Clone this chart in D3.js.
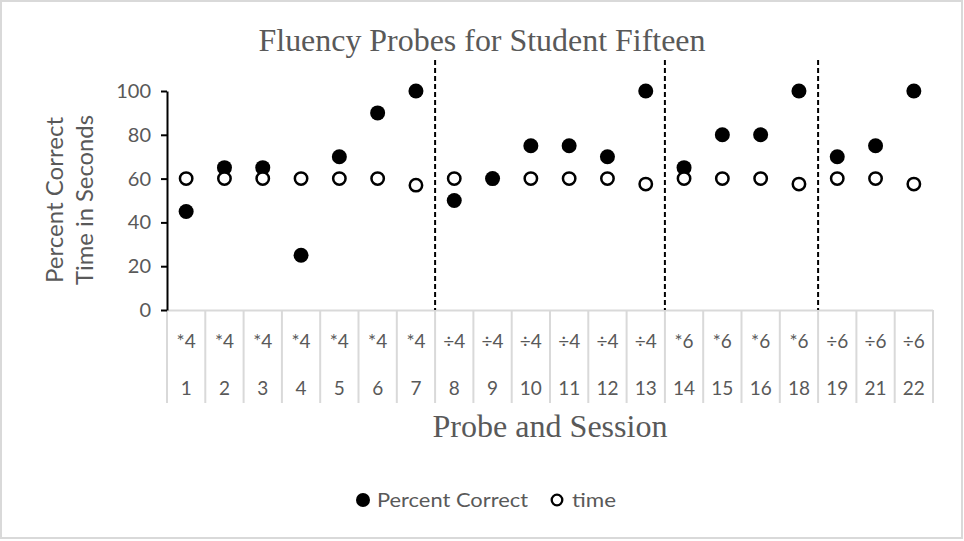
<!DOCTYPE html>
<html><head><meta charset="utf-8">
<script src="https://cdn.jsdelivr.net/npm/d3@7"></script>
<style>body{margin:0;background:#fff}svg{display:block}</style>
</head><body>
<svg id="c" width="964" height="541"></svg>
<script>
const sessions = ["1","2","3","4","5","6","7","8","9","10","11","12","13","14","15","16","18","19","21","22"];
const probes = ["*4","*4","*4","*4","*4","*4","*4","÷4","÷4","÷4","÷4","÷4","÷4","*6","*6","*6","*6","÷6","÷6","÷6"];
const percentCorrect = [45,65,65,25,70,90,100,50,60,75,75,70,100,65,80,80,100,70,75,100];
const timeSeconds = [60,60,60,60,60,60,57,60,null,60,60,60,57.5,60,60,60,57.5,60,60,57.5];
const phaseChangeAfter = ["7","13","18"];
const yTicks = [0,20,40,60,80,100];

const svg = d3.select("#c");
const grey = "#595959";
const sans = "Lato, 'Open Sans', sans-serif";
const serif = "'Liberation Serif', 'DejaVu Serif', serif";

svg.append("rect").attr("x",1).attr("y",1).attr("width",961).attr("height",537)
  .attr("fill","#fff").attr("stroke","#d9d9d9").attr("stroke-width",2);

const x = d3.scaleBand().domain(sessions).range([167,933]).padding(0);
const y = d3.scaleLinear().domain([0,100]).range([310,91]);

// category grid
const cat = svg.append("g");
cat.append("line").attr("x1",167).attr("x2",933).attr("y1",310.5).attr("y2",310.5)
  .attr("stroke","#d9d9d9").attr("stroke-width",2);
sessions.forEach((s,i)=>{
  const xe = x(s)+x.bandwidth();
  cat.append("line").attr("x1",xe).attr("x2",xe).attr("y1",310).attr("y2",403)
    .attr("stroke","#d9d9d9").attr("stroke-width",2);
  cat.append("text").attr("x",x(s)+x.bandwidth()/2).attr("y",348).attr("text-anchor","middle")
    .attr("font-family",sans).attr("font-size",19).attr("fill",grey).text(probes[i]);
  cat.append("text").attr("x",x(s)+x.bandwidth()/2).attr("y",395).attr("text-anchor","middle")
    .attr("font-family",sans).attr("font-size",19).attr("fill",grey).text(s);
});
cat.append("line").attr("x1",167).attr("x2",167).attr("y1",310).attr("y2",403)
  .attr("stroke","#d9d9d9").attr("stroke-width",2);

// y axis
const ya = svg.append("g").attr("transform","translate(167,0)")
  .call(d3.axisLeft(y).tickValues(yTicks).tickSize(6).tickSizeOuter(0).tickPadding(10));
ya.select(".domain").attr("stroke","#000").attr("stroke-width",2);
ya.selectAll(".tick line").attr("stroke","#000").attr("stroke-width",2);
ya.selectAll(".tick text").attr("font-family",sans).attr("font-size",20).attr("fill",grey);

// phase lines
phaseChangeAfter.forEach(s=>{
  const xe = x(s)+x.bandwidth();
  svg.append("line").attr("x1",xe).attr("x2",xe).attr("y1",60).attr("y2",310)
    .attr("stroke","#000").attr("stroke-width",2).attr("stroke-dasharray","5,3");
});

// points
svg.append("g").selectAll("circle").data(percentCorrect).join("circle")
  .attr("cx",(d,i)=>x(sessions[i])+x.bandwidth()/2).attr("cy",d=>y(d)).attr("r",7.5).attr("fill","#000");
svg.append("g").selectAll("circle").data(timeSeconds.map((v,i)=>({v,i})).filter(d=>d.v!==null)).join("circle")
  .attr("cx",d=>x(sessions[d.i])+x.bandwidth()/2).attr("cy",d=>y(d.v)).attr("r",6.2)
  .attr("fill","#fff").attr("stroke","#000").attr("stroke-width",2.5);

// titles
svg.append("text").attr("x",482).attr("y",51).attr("text-anchor","middle")
  .attr("font-family",serif).attr("font-size",31).attr("fill",grey)
  .attr("textLength",447).attr("lengthAdjust","spacingAndGlyphs").text("Fluency Probes for Student Fifteen");
svg.append("text").attr("x",550).attr("y",437).attr("text-anchor","middle")
  .attr("font-family",serif).attr("font-size",31).attr("fill",grey)
  .attr("textLength",235).attr("lengthAdjust","spacingAndGlyphs").text("Probe and Session");
const yt = svg.append("text").attr("transform","translate(0,200) rotate(-90)")
  .attr("text-anchor","middle").attr("font-family",sans).attr("font-size",23).attr("fill",grey);
yt.append("tspan").attr("x",0).attr("y",63).attr("textLength",166).attr("lengthAdjust","spacingAndGlyphs").text("Percent Correct");
yt.append("tspan").attr("x",0).attr("y",93).attr("textLength",170).attr("lengthAdjust","spacingAndGlyphs").text("Time in Seconds");

// legend
const lg = svg.append("g");
lg.append("circle").attr("cx",363).attr("cy",500).attr("r",7).attr("fill","#000");
lg.append("text").attr("x",377).attr("y",507).attr("font-family",sans).attr("font-size",20).attr("fill",grey)
  .attr("textLength",151).attr("lengthAdjust","spacingAndGlyphs").text("Percent Correct");
lg.append("circle").attr("cx",557).attr("cy",500).attr("r",5.3).attr("fill","#fff").attr("stroke","#000").attr("stroke-width",2.3);
lg.append("text").attr("x",572).attr("y",507).attr("font-family",sans).attr("font-size",20).attr("fill",grey)
  .attr("textLength",44).attr("lengthAdjust","spacingAndGlyphs").text("time");
</script>
</body></html>
